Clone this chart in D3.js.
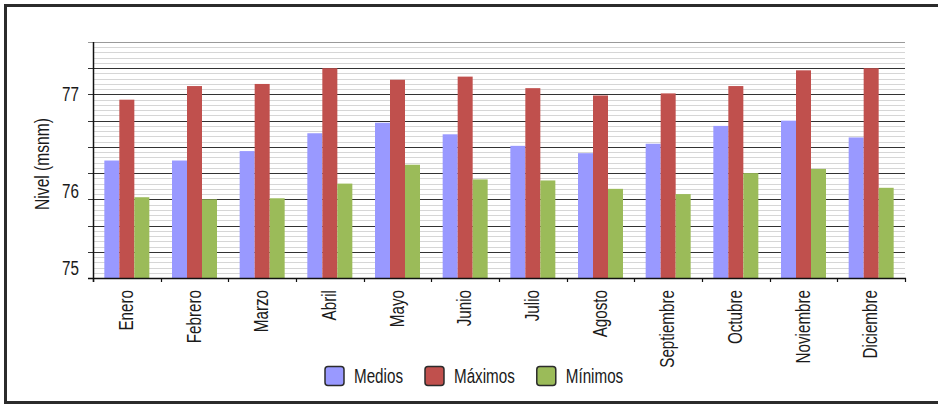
<!DOCTYPE html>
<html>
<head>
<meta charset="utf-8">
<script src="https://cdn.jsdelivr.net/npm/d3@7"></script>
<style>
  html, body { margin: 0; padding: 0; background: #fff; }
  svg { display: block; }
  text { font-family: "Liberation Sans", Arial, sans-serif; fill: #1a1a1a; }
</style>
</head>
<body>
<svg id="chart" width="938" height="404"></svg>
<script>
// ---- data ----
const months = ["Enero","Febrero","Marzo","Abril","Mayo","Junio","Julio","Agosto","Septiembre","Octubre","Noviembre","Diciembre"];
const seriesNames = ["Medios","Máximos","Mínimos"];
const medios  = [76.37, 76.37, 76.46, 76.63, 76.73, 76.62, 76.51, 76.44, 76.53, 76.70, 76.75, 76.59];
const maximos = [76.95, 77.08, 77.10, 77.25, 77.14, 77.17, 77.06, 76.99, 77.01, 77.08, 77.23, 77.25];
const minimos = [76.02, 76.00, 76.01, 76.15, 76.33, 76.19, 76.18, 76.10, 76.05, 76.25, 76.29, 76.11];
const yTickValues = [75.34, 76.08, 77];
const yTickLabels = ["75", "76", "77"];
const yTitle = "Nivel (msnm)";
const colors = ["#9999FF", "#C0504D", "#9BBB59"];

const seriesData = [medios, maximos, minimos];
const NARROW = 0.78;
const FS = 19.5;

const svg = d3.select("#chart");

// outer frame
svg.append("rect").attr("x", 5.5).attr("y", 5.5).attr("width", 940).attr("height", 397)
  .attr("fill", "none").attr("stroke", "#2b2b2b").attr("stroke-width", 3);

const plot = { left: 93, right: 905, top: 42, bottom: 278 };

const y = d3.scaleLinear().domain([75.25, 77.5]).range([plot.bottom, plot.top]);
const x = d3.scaleBand().domain(months).range([plot.left, plot.right]).padding(0);
const bw = x.bandwidth();
const groupW = 45;
const xs = d3.scaleBand().domain(seriesNames).range([(bw - groupW) / 2, (bw + groupW) / 2]).padding(0);

// minor gridlines
const minor = d3.range(0, 46).map(i => +(75.25 + i * 0.05).toFixed(2));
svg.append("g").selectAll("line").data(minor).join("line")
  .attr("x1", plot.left).attr("x2", plot.right)
  .attr("y1", d => Math.round(y(d)) + 0.5).attr("y2", d => Math.round(y(d)) + 0.5)
  .attr("stroke", "#d6d6d6").attr("stroke-width", 1);

// major gridlines + ticks
const major = d3.range(0, 10).map(i => +(75.25 + i * 0.25).toFixed(2));
svg.append("g").selectAll("line").data(major.filter(d => d < 77.5 && d > 75.25)).join("line")
  .attr("x1", plot.left - 5).attr("x2", plot.right)
  .attr("y1", d => Math.round(y(d)) + 0.5).attr("y2", d => Math.round(y(d)) + 0.5)
  .attr("stroke", "#333").attr("stroke-width", 1);
// top border of plot
svg.append("line").attr("x1", plot.left - 5).attr("x2", plot.right)
  .attr("y1", plot.top + 0.5).attr("y2", plot.top + 0.5).attr("stroke", "#9a9a9a");

// bars
seriesData.forEach((vals, si) => {
  svg.append("g").selectAll("rect").data(vals).join("rect")
    .attr("x", (d, i) => x(months[i]) + xs(seriesNames[si]))
    .attr("width", xs.bandwidth())
    .attr("y", d => y(d))
    .attr("height", d => y(75.25) - y(d))
    .attr("fill", colors[si]);
});

// y axis line
svg.append("line").attr("x1", plot.left + 0.5).attr("x2", plot.left + 0.5)
  .attr("y1", plot.top).attr("y2", plot.bottom + 4).attr("stroke", "#111").attr("stroke-width", 1.5);
// x axis line
svg.append("line").attr("x1", plot.left - 5).attr("x2", plot.right + 1)
  .attr("y1", plot.bottom + 0.5).attr("y2", plot.bottom + 0.5).attr("stroke", "#111").attr("stroke-width", 1.5);
// x ticks at category boundaries
const bounds = months.map(m => x(m)).concat([x.range()[1]]);
svg.append("g").selectAll("line").data(bounds).join("line")
  .attr("x1", d => Math.round(d) + 0.5).attr("x2", d => Math.round(d) + 0.5)
  .attr("y1", plot.bottom).attr("y2", plot.bottom + 4)
  .attr("stroke", "#111").attr("stroke-width", 1.2);

// y tick labels
svg.append("g").selectAll("text").data(yTickValues).join("text")
  .attr("transform", d => `translate(79,${y(d)}) scale(${NARROW},1)`)
  .attr("dy", "0.35em")
  .attr("text-anchor", "end").attr("font-size", FS)
  .text((d, i) => yTickLabels[i]);

// y title
svg.append("text").attr("transform", `translate(48.5,164) rotate(-90) scale(0.8,1)`)
  .attr("text-anchor", "middle").attr("font-size", 19.5).text(yTitle);

// x labels
svg.append("g").selectAll("text").data(months).join("text")
  .attr("transform", d => `translate(${x(d) + bw / 2 + 6},${plot.bottom + 12}) rotate(-90) scale(${NARROW},1)`)
  .attr("text-anchor", "end").attr("font-size", FS).text(d => d);

// legend
const lg = svg.append("g");
let lx = 325;
seriesNames.forEach((s, i) => {
  lg.append("rect").attr("x", lx).attr("y", 366.5).attr("width", 19).attr("height", 19)
    .attr("rx", 3).attr("fill", colors[i]).attr("stroke", "#2b2b2b").attr("stroke-width", 1.5);
  const t = lg.append("text").attr("transform", `translate(${lx + 29},383) scale(${NARROW},1)`)
    .attr("font-size", FS).text(s);
  lx += 29 + t.node().getComputedTextLength() * NARROW + 22;
});
</script>
</body>
</html>
